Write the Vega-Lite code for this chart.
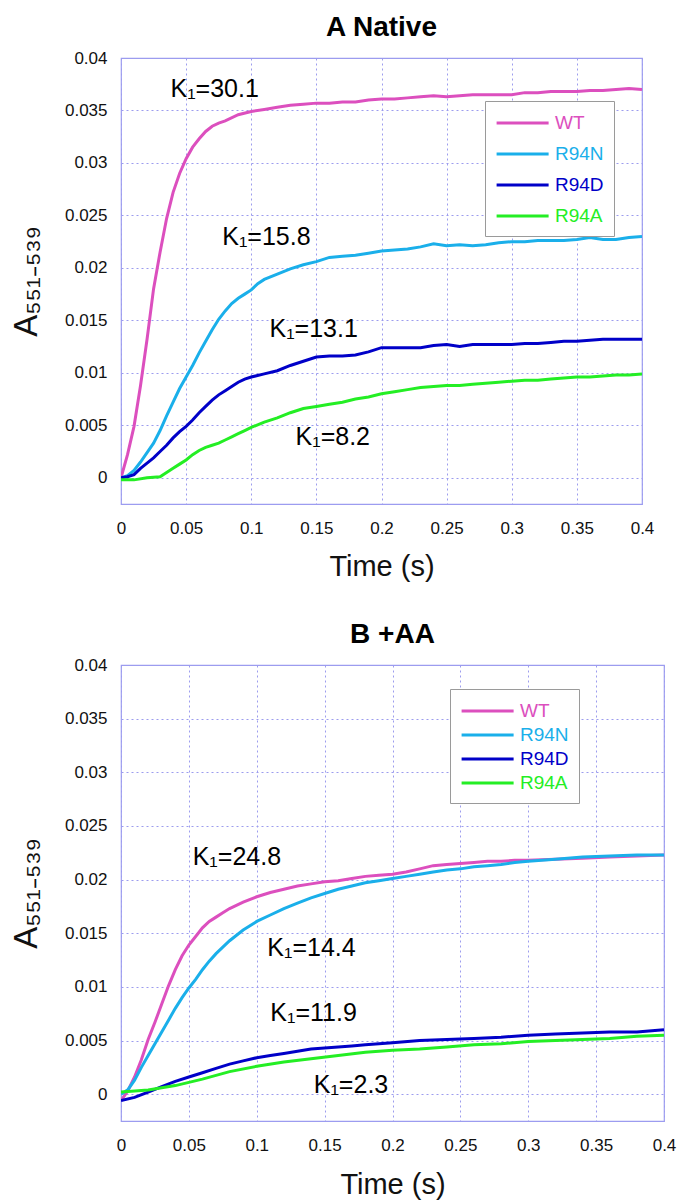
{
  "$schema": "https://vega.github.io/schema/vega-lite/v6.json",
  "padding": {"left": 9, "top": 13, "right": 2, "bottom": 2},
  "config": {
    "font": "Liberation Sans",
    "view": {"stroke": "#9c9cf0", "strokeWidth": 1.2},
    "axis": {
      "grid": true, "gridColor": "#9c9cee", "gridDash": [2, 3], "gridWidth": 1,
      "domain": false, "ticks": false,
      "labelFont": "Liberation Sans", "labelFontSize": 17, "labelColor": "#111111",
      "titleFont": "Liberation Sans", "titleFontSize": 29, "titleFontWeight": "normal", "titleColor": "#111111"
    },
    "title": {"font": "Liberation Sans", "fontSize": 28, "fontWeight": "bold", "frame": "group", "anchor": "middle", "offset": 7, "color": "#000000"},
    "text": {"font": "Liberation Sans"}
  },
  "datasets": {
    "curvesA": [
      {"t": 0, "a": 0, "s": "WT"}, {"t": 0.005, "a": 0.0022, "s": "WT"}, {"t": 0.01, "a": 0.0049, "s": "WT"}, {"t": 0.015, "a": 0.0088, "s": "WT"}, {"t": 0.02, "a": 0.0132, "s": "WT"}, {"t": 0.025, "a": 0.018, "s": "WT"}, {"t": 0.03, "a": 0.0215, "s": "WT"}, {"t": 0.035, "a": 0.0247, "s": "WT"}, {"t": 0.04, "a": 0.0272, "s": "WT"}, {"t": 0.045, "a": 0.029, "s": "WT"}, {"t": 0.05, "a": 0.0304, "s": "WT"}, {"t": 0.055, "a": 0.0315, "s": "WT"}, {"t": 0.06, "a": 0.0323, "s": "WT"}, {"t": 0.065, "a": 0.033, "s": "WT"}, {"t": 0.07, "a": 0.0335, "s": "WT"}, {"t": 0.075, "a": 0.0338, "s": "WT"}, {"t": 0.08, "a": 0.034, "s": "WT"}, {"t": 0.09, "a": 0.0346, "s": "WT"}, {"t": 0.1, "a": 0.0349, "s": "WT"}, {"t": 0.11, "a": 0.0351, "s": "WT"}, {"t": 0.12, "a": 0.0353, "s": "WT"}, {"t": 0.13, "a": 0.0355, "s": "WT"}, {"t": 0.14, "a": 0.0356, "s": "WT"}, {"t": 0.15, "a": 0.0357, "s": "WT"}, {"t": 0.16, "a": 0.0357, "s": "WT"}, {"t": 0.17, "a": 0.0358, "s": "WT"}, {"t": 0.18, "a": 0.0358, "s": "WT"}, {"t": 0.19, "a": 0.036, "s": "WT"}, {"t": 0.2, "a": 0.0361, "s": "WT"}, {"t": 0.21, "a": 0.0361, "s": "WT"}, {"t": 0.22, "a": 0.0362, "s": "WT"}, {"t": 0.23, "a": 0.0363, "s": "WT"}, {"t": 0.24, "a": 0.0364, "s": "WT"}, {"t": 0.25, "a": 0.0363, "s": "WT"}, {"t": 0.26, "a": 0.0364, "s": "WT"}, {"t": 0.27, "a": 0.0365, "s": "WT"}, {"t": 0.28, "a": 0.0365, "s": "WT"}, {"t": 0.29, "a": 0.0365, "s": "WT"}, {"t": 0.3, "a": 0.0365, "s": "WT"}, {"t": 0.31, "a": 0.0367, "s": "WT"}, {"t": 0.32, "a": 0.0367, "s": "WT"}, {"t": 0.33, "a": 0.0368, "s": "WT"}, {"t": 0.34, "a": 0.0368, "s": "WT"}, {"t": 0.35, "a": 0.0368, "s": "WT"}, {"t": 0.36, "a": 0.0369, "s": "WT"}, {"t": 0.37, "a": 0.0369, "s": "WT"}, {"t": 0.38, "a": 0.037, "s": "WT"}, {"t": 0.39, "a": 0.0371, "s": "WT"}, {"t": 0.4, "a": 0.037, "s": "WT"},
      {"t": 0, "a": 0, "s": "R94N"}, {"t": 0.005, "a": 0.0002, "s": "R94N"}, {"t": 0.01, "a": 0.0007, "s": "R94N"}, {"t": 0.015, "a": 0.0015, "s": "R94N"}, {"t": 0.02, "a": 0.0024, "s": "R94N"}, {"t": 0.025, "a": 0.0033, "s": "R94N"}, {"t": 0.03, "a": 0.0045, "s": "R94N"}, {"t": 0.035, "a": 0.0059, "s": "R94N"}, {"t": 0.04, "a": 0.0072, "s": "R94N"}, {"t": 0.045, "a": 0.0085, "s": "R94N"}, {"t": 0.05, "a": 0.0096, "s": "R94N"}, {"t": 0.055, "a": 0.0107, "s": "R94N"}, {"t": 0.06, "a": 0.0119, "s": "R94N"}, {"t": 0.065, "a": 0.013, "s": "R94N"}, {"t": 0.07, "a": 0.0141, "s": "R94N"}, {"t": 0.075, "a": 0.0151, "s": "R94N"}, {"t": 0.08, "a": 0.0159, "s": "R94N"}, {"t": 0.085, "a": 0.0166, "s": "R94N"}, {"t": 0.09, "a": 0.0171, "s": "R94N"}, {"t": 0.095, "a": 0.0175, "s": "R94N"}, {"t": 0.1, "a": 0.0179, "s": "R94N"}, {"t": 0.105, "a": 0.0185, "s": "R94N"}, {"t": 0.11, "a": 0.0189, "s": "R94N"}, {"t": 0.12, "a": 0.0194, "s": "R94N"}, {"t": 0.13, "a": 0.0199, "s": "R94N"}, {"t": 0.14, "a": 0.0203, "s": "R94N"}, {"t": 0.15, "a": 0.0206, "s": "R94N"}, {"t": 0.16, "a": 0.021, "s": "R94N"}, {"t": 0.17, "a": 0.0211, "s": "R94N"}, {"t": 0.18, "a": 0.0212, "s": "R94N"}, {"t": 0.19, "a": 0.0214, "s": "R94N"}, {"t": 0.2, "a": 0.0216, "s": "R94N"}, {"t": 0.21, "a": 0.0217, "s": "R94N"}, {"t": 0.22, "a": 0.0218, "s": "R94N"}, {"t": 0.23, "a": 0.022, "s": "R94N"}, {"t": 0.24, "a": 0.0223, "s": "R94N"}, {"t": 0.25, "a": 0.0221, "s": "R94N"}, {"t": 0.26, "a": 0.0222, "s": "R94N"}, {"t": 0.27, "a": 0.0221, "s": "R94N"}, {"t": 0.28, "a": 0.0222, "s": "R94N"}, {"t": 0.29, "a": 0.0224, "s": "R94N"}, {"t": 0.3, "a": 0.0225, "s": "R94N"}, {"t": 0.31, "a": 0.0225, "s": "R94N"}, {"t": 0.32, "a": 0.0226, "s": "R94N"}, {"t": 0.33, "a": 0.0226, "s": "R94N"}, {"t": 0.34, "a": 0.0226, "s": "R94N"}, {"t": 0.35, "a": 0.0227, "s": "R94N"}, {"t": 0.36, "a": 0.0229, "s": "R94N"}, {"t": 0.37, "a": 0.0227, "s": "R94N"}, {"t": 0.38, "a": 0.0227, "s": "R94N"}, {"t": 0.39, "a": 0.0229, "s": "R94N"}, {"t": 0.4, "a": 0.023, "s": "R94N"},
      {"t": 0, "a": 0, "s": "R94D"}, {"t": 0.005, "a": 0.0001, "s": "R94D"}, {"t": 0.01, "a": 0.0003, "s": "R94D"}, {"t": 0.015, "a": 0.0009, "s": "R94D"}, {"t": 0.02, "a": 0.0014, "s": "R94D"}, {"t": 0.025, "a": 0.0019, "s": "R94D"}, {"t": 0.03, "a": 0.0025, "s": "R94D"}, {"t": 0.035, "a": 0.0031, "s": "R94D"}, {"t": 0.04, "a": 0.0038, "s": "R94D"}, {"t": 0.045, "a": 0.0044, "s": "R94D"}, {"t": 0.05, "a": 0.0049, "s": "R94D"}, {"t": 0.055, "a": 0.0055, "s": "R94D"}, {"t": 0.06, "a": 0.0062, "s": "R94D"}, {"t": 0.065, "a": 0.0068, "s": "R94D"}, {"t": 0.07, "a": 0.0074, "s": "R94D"}, {"t": 0.075, "a": 0.0079, "s": "R94D"}, {"t": 0.08, "a": 0.0083, "s": "R94D"}, {"t": 0.085, "a": 0.0087, "s": "R94D"}, {"t": 0.09, "a": 0.0091, "s": "R94D"}, {"t": 0.095, "a": 0.0094, "s": "R94D"}, {"t": 0.1, "a": 0.0096, "s": "R94D"}, {"t": 0.11, "a": 0.0099, "s": "R94D"}, {"t": 0.12, "a": 0.0102, "s": "R94D"}, {"t": 0.13, "a": 0.0107, "s": "R94D"}, {"t": 0.14, "a": 0.0111, "s": "R94D"}, {"t": 0.15, "a": 0.0115, "s": "R94D"}, {"t": 0.16, "a": 0.0116, "s": "R94D"}, {"t": 0.17, "a": 0.0116, "s": "R94D"}, {"t": 0.18, "a": 0.0117, "s": "R94D"}, {"t": 0.19, "a": 0.012, "s": "R94D"}, {"t": 0.2, "a": 0.0124, "s": "R94D"}, {"t": 0.21, "a": 0.0124, "s": "R94D"}, {"t": 0.22, "a": 0.0124, "s": "R94D"}, {"t": 0.23, "a": 0.0124, "s": "R94D"}, {"t": 0.24, "a": 0.0126, "s": "R94D"}, {"t": 0.25, "a": 0.0127, "s": "R94D"}, {"t": 0.26, "a": 0.0125, "s": "R94D"}, {"t": 0.27, "a": 0.0127, "s": "R94D"}, {"t": 0.28, "a": 0.0127, "s": "R94D"}, {"t": 0.29, "a": 0.0127, "s": "R94D"}, {"t": 0.3, "a": 0.0127, "s": "R94D"}, {"t": 0.31, "a": 0.0128, "s": "R94D"}, {"t": 0.32, "a": 0.0128, "s": "R94D"}, {"t": 0.33, "a": 0.0129, "s": "R94D"}, {"t": 0.34, "a": 0.013, "s": "R94D"}, {"t": 0.35, "a": 0.013, "s": "R94D"}, {"t": 0.36, "a": 0.0131, "s": "R94D"}, {"t": 0.37, "a": 0.0132, "s": "R94D"}, {"t": 0.38, "a": 0.0132, "s": "R94D"}, {"t": 0.39, "a": 0.0132, "s": "R94D"}, {"t": 0.4, "a": 0.0132, "s": "R94D"},
      {"t": 0, "a": -0.0002, "s": "R94A"}, {"t": 0.01, "a": -0.0002, "s": "R94A"}, {"t": 0.02, "a": 0.0, "s": "R94A"}, {"t": 0.03, "a": 0.0001, "s": "R94A"}, {"t": 0.035, "a": 0.0005, "s": "R94A"}, {"t": 0.04, "a": 0.0009, "s": "R94A"}, {"t": 0.045, "a": 0.0013, "s": "R94A"}, {"t": 0.05, "a": 0.0017, "s": "R94A"}, {"t": 0.055, "a": 0.0022, "s": "R94A"}, {"t": 0.06, "a": 0.0026, "s": "R94A"}, {"t": 0.065, "a": 0.0029, "s": "R94A"}, {"t": 0.07, "a": 0.0031, "s": "R94A"}, {"t": 0.075, "a": 0.0033, "s": "R94A"}, {"t": 0.08, "a": 0.0036, "s": "R94A"}, {"t": 0.085, "a": 0.0039, "s": "R94A"}, {"t": 0.09, "a": 0.0042, "s": "R94A"}, {"t": 0.095, "a": 0.0045, "s": "R94A"}, {"t": 0.1, "a": 0.0048, "s": "R94A"}, {"t": 0.11, "a": 0.0053, "s": "R94A"}, {"t": 0.12, "a": 0.0057, "s": "R94A"}, {"t": 0.13, "a": 0.0062, "s": "R94A"}, {"t": 0.14, "a": 0.0066, "s": "R94A"}, {"t": 0.15, "a": 0.0068, "s": "R94A"}, {"t": 0.16, "a": 0.007, "s": "R94A"}, {"t": 0.17, "a": 0.0072, "s": "R94A"}, {"t": 0.18, "a": 0.0075, "s": "R94A"}, {"t": 0.19, "a": 0.0077, "s": "R94A"}, {"t": 0.2, "a": 0.008, "s": "R94A"}, {"t": 0.21, "a": 0.0082, "s": "R94A"}, {"t": 0.22, "a": 0.0084, "s": "R94A"}, {"t": 0.23, "a": 0.0086, "s": "R94A"}, {"t": 0.24, "a": 0.0087, "s": "R94A"}, {"t": 0.25, "a": 0.0088, "s": "R94A"}, {"t": 0.26, "a": 0.0088, "s": "R94A"}, {"t": 0.27, "a": 0.0089, "s": "R94A"}, {"t": 0.28, "a": 0.009, "s": "R94A"}, {"t": 0.29, "a": 0.0091, "s": "R94A"}, {"t": 0.3, "a": 0.0092, "s": "R94A"}, {"t": 0.31, "a": 0.0093, "s": "R94A"}, {"t": 0.32, "a": 0.0093, "s": "R94A"}, {"t": 0.33, "a": 0.0094, "s": "R94A"}, {"t": 0.34, "a": 0.0095, "s": "R94A"}, {"t": 0.35, "a": 0.0096, "s": "R94A"}, {"t": 0.36, "a": 0.0096, "s": "R94A"}, {"t": 0.37, "a": 0.0097, "s": "R94A"}, {"t": 0.38, "a": 0.0098, "s": "R94A"}, {"t": 0.39, "a": 0.0098, "s": "R94A"}, {"t": 0.4, "a": 0.0099, "s": "R94A"}
    ],
    "curvesB": [
      {"t": 0, "a": -0.0006, "s": "WT"}, {"t": 0.005, "a": 0.0003, "s": "WT"}, {"t": 0.01, "a": 0.0016, "s": "WT"}, {"t": 0.015, "a": 0.0032, "s": "WT"}, {"t": 0.02, "a": 0.0051, "s": "WT"}, {"t": 0.025, "a": 0.0067, "s": "WT"}, {"t": 0.03, "a": 0.0084, "s": "WT"}, {"t": 0.035, "a": 0.0101, "s": "WT"}, {"t": 0.04, "a": 0.0116, "s": "WT"}, {"t": 0.045, "a": 0.0129, "s": "WT"}, {"t": 0.05, "a": 0.0139, "s": "WT"}, {"t": 0.055, "a": 0.0147, "s": "WT"}, {"t": 0.06, "a": 0.0155, "s": "WT"}, {"t": 0.065, "a": 0.0161, "s": "WT"}, {"t": 0.07, "a": 0.0165, "s": "WT"}, {"t": 0.075, "a": 0.0169, "s": "WT"}, {"t": 0.08, "a": 0.0173, "s": "WT"}, {"t": 0.09, "a": 0.0179, "s": "WT"}, {"t": 0.1, "a": 0.0184, "s": "WT"}, {"t": 0.11, "a": 0.0188, "s": "WT"}, {"t": 0.12, "a": 0.0191, "s": "WT"}, {"t": 0.13, "a": 0.0194, "s": "WT"}, {"t": 0.14, "a": 0.0196, "s": "WT"}, {"t": 0.15, "a": 0.0198, "s": "WT"}, {"t": 0.16, "a": 0.0199, "s": "WT"}, {"t": 0.17, "a": 0.0201, "s": "WT"}, {"t": 0.18, "a": 0.0203, "s": "WT"}, {"t": 0.19, "a": 0.0204, "s": "WT"}, {"t": 0.2, "a": 0.0205, "s": "WT"}, {"t": 0.21, "a": 0.0207, "s": "WT"}, {"t": 0.22, "a": 0.021, "s": "WT"}, {"t": 0.23, "a": 0.0213, "s": "WT"}, {"t": 0.24, "a": 0.0214, "s": "WT"}, {"t": 0.25, "a": 0.0215, "s": "WT"}, {"t": 0.26, "a": 0.0216, "s": "WT"}, {"t": 0.27, "a": 0.0217, "s": "WT"}, {"t": 0.28, "a": 0.0217, "s": "WT"}, {"t": 0.29, "a": 0.0218, "s": "WT"}, {"t": 0.3, "a": 0.0218, "s": "WT"}, {"t": 0.32, "a": 0.0219, "s": "WT"}, {"t": 0.34, "a": 0.022, "s": "WT"}, {"t": 0.36, "a": 0.0221, "s": "WT"}, {"t": 0.38, "a": 0.0222, "s": "WT"}, {"t": 0.4, "a": 0.0223, "s": "WT"},
      {"t": 0, "a": 0, "s": "R94N"}, {"t": 0.005, "a": 0.0004, "s": "R94N"}, {"t": 0.01, "a": 0.0013, "s": "R94N"}, {"t": 0.015, "a": 0.0025, "s": "R94N"}, {"t": 0.02, "a": 0.0036, "s": "R94N"}, {"t": 0.025, "a": 0.0047, "s": "R94N"}, {"t": 0.03, "a": 0.0058, "s": "R94N"}, {"t": 0.035, "a": 0.0069, "s": "R94N"}, {"t": 0.04, "a": 0.008, "s": "R94N"}, {"t": 0.045, "a": 0.009, "s": "R94N"}, {"t": 0.05, "a": 0.0099, "s": "R94N"}, {"t": 0.055, "a": 0.0107, "s": "R94N"}, {"t": 0.06, "a": 0.0116, "s": "R94N"}, {"t": 0.065, "a": 0.0124, "s": "R94N"}, {"t": 0.07, "a": 0.0131, "s": "R94N"}, {"t": 0.075, "a": 0.0137, "s": "R94N"}, {"t": 0.08, "a": 0.0143, "s": "R94N"}, {"t": 0.09, "a": 0.0153, "s": "R94N"}, {"t": 0.1, "a": 0.0161, "s": "R94N"}, {"t": 0.11, "a": 0.0167, "s": "R94N"}, {"t": 0.12, "a": 0.0173, "s": "R94N"}, {"t": 0.13, "a": 0.0178, "s": "R94N"}, {"t": 0.14, "a": 0.0183, "s": "R94N"}, {"t": 0.15, "a": 0.0187, "s": "R94N"}, {"t": 0.16, "a": 0.0191, "s": "R94N"}, {"t": 0.17, "a": 0.0194, "s": "R94N"}, {"t": 0.18, "a": 0.0197, "s": "R94N"}, {"t": 0.19, "a": 0.0199, "s": "R94N"}, {"t": 0.2, "a": 0.0201, "s": "R94N"}, {"t": 0.21, "a": 0.0203, "s": "R94N"}, {"t": 0.22, "a": 0.0205, "s": "R94N"}, {"t": 0.23, "a": 0.0207, "s": "R94N"}, {"t": 0.24, "a": 0.0209, "s": "R94N"}, {"t": 0.25, "a": 0.021, "s": "R94N"}, {"t": 0.26, "a": 0.0212, "s": "R94N"}, {"t": 0.27, "a": 0.0213, "s": "R94N"}, {"t": 0.28, "a": 0.0214, "s": "R94N"}, {"t": 0.29, "a": 0.0216, "s": "R94N"}, {"t": 0.3, "a": 0.0217, "s": "R94N"}, {"t": 0.32, "a": 0.0219, "s": "R94N"}, {"t": 0.34, "a": 0.0221, "s": "R94N"}, {"t": 0.36, "a": 0.0222, "s": "R94N"}, {"t": 0.38, "a": 0.0223, "s": "R94N"}, {"t": 0.4, "a": 0.0223, "s": "R94N"},
      {"t": 0, "a": -0.0006, "s": "R94D"}, {"t": 0.01, "a": -0.0003, "s": "R94D"}, {"t": 0.02, "a": 0.0002, "s": "R94D"}, {"t": 0.03, "a": 0.0007, "s": "R94D"}, {"t": 0.04, "a": 0.0012, "s": "R94D"}, {"t": 0.05, "a": 0.0016, "s": "R94D"}, {"t": 0.06, "a": 0.002, "s": "R94D"}, {"t": 0.07, "a": 0.0024, "s": "R94D"}, {"t": 0.08, "a": 0.0028, "s": "R94D"}, {"t": 0.09, "a": 0.0031, "s": "R94D"}, {"t": 0.1, "a": 0.0034, "s": "R94D"}, {"t": 0.11, "a": 0.0036, "s": "R94D"}, {"t": 0.12, "a": 0.0038, "s": "R94D"}, {"t": 0.13, "a": 0.004, "s": "R94D"}, {"t": 0.14, "a": 0.0042, "s": "R94D"}, {"t": 0.15, "a": 0.0043, "s": "R94D"}, {"t": 0.16, "a": 0.0044, "s": "R94D"}, {"t": 0.17, "a": 0.0045, "s": "R94D"}, {"t": 0.18, "a": 0.0046, "s": "R94D"}, {"t": 0.19, "a": 0.0047, "s": "R94D"}, {"t": 0.2, "a": 0.0048, "s": "R94D"}, {"t": 0.22, "a": 0.005, "s": "R94D"}, {"t": 0.24, "a": 0.0051, "s": "R94D"}, {"t": 0.26, "a": 0.0052, "s": "R94D"}, {"t": 0.28, "a": 0.0053, "s": "R94D"}, {"t": 0.3, "a": 0.0055, "s": "R94D"}, {"t": 0.32, "a": 0.0056, "s": "R94D"}, {"t": 0.34, "a": 0.0057, "s": "R94D"}, {"t": 0.36, "a": 0.0058, "s": "R94D"}, {"t": 0.38, "a": 0.0058, "s": "R94D"}, {"t": 0.4, "a": 0.006, "s": "R94D"},
      {"t": 0, "a": 0.0002, "s": "R94A"}, {"t": 0.02, "a": 0.0004, "s": "R94A"}, {"t": 0.04, "a": 0.0008, "s": "R94A"}, {"t": 0.06, "a": 0.0014, "s": "R94A"}, {"t": 0.08, "a": 0.0021, "s": "R94A"}, {"t": 0.1, "a": 0.0026, "s": "R94A"}, {"t": 0.12, "a": 0.003, "s": "R94A"}, {"t": 0.14, "a": 0.0033, "s": "R94A"}, {"t": 0.16, "a": 0.0036, "s": "R94A"}, {"t": 0.18, "a": 0.0039, "s": "R94A"}, {"t": 0.2, "a": 0.0041, "s": "R94A"}, {"t": 0.22, "a": 0.0042, "s": "R94A"}, {"t": 0.24, "a": 0.0044, "s": "R94A"}, {"t": 0.26, "a": 0.0046, "s": "R94A"}, {"t": 0.28, "a": 0.0047, "s": "R94A"}, {"t": 0.3, "a": 0.0049, "s": "R94A"}, {"t": 0.32, "a": 0.005, "s": "R94A"}, {"t": 0.34, "a": 0.0051, "s": "R94A"}, {"t": 0.36, "a": 0.0052, "s": "R94A"}, {"t": 0.38, "a": 0.0054, "s": "R94A"}, {"t": 0.4, "a": 0.0055, "s": "R94A"}
    ],
    "labelsA": [
      {"t": 0.038, "a": 0.0363, "label": "K₁=30.1"},
      {"t": 0.0777, "a": 0.0222, "label": "K₁=15.8"},
      {"t": 0.114, "a": 0.0134, "label": "K₁=13.1"},
      {"t": 0.134, "a": 0.0031, "label": "K₁=8.2"}
    ],
    "labelsB": [
      {"t": 0.0528, "a": 0.0214, "label": "K₁=24.8"},
      {"t": 0.1078, "a": 0.0129, "label": "K₁=14.4"},
      {"t": 0.11, "a": 0.0068, "label": "K₁=11.9"},
      {"t": 0.142, "a": 0.0001, "label": "K₁=2.3"}
    ]
  },
  "vconcat": [
    {
      "title": "A Native",
      "width": 521,
      "height": 446,
      "encoding": {
        "x": {"field": "t", "type": "quantitative", "scale": {"domain": [0, 0.4], "nice": false, "zero": false},
              "axis": {"title": "Time (s)", "values": [0, 0.05, 0.1, 0.15, 0.2, 0.25, 0.3, 0.35, 0.4], "format": "~g", "labelPadding": 16, "titlePadding": 16, "labelFlush": false}},
        "y": {"field": "a", "type": "quantitative", "scale": {"domain": [-0.0025, 0.04], "nice": false, "zero": false},
              "axis": {"title": "A₅₅₁₋₅₃₉", "titleFontSize": 33, "values": [0, 0.005, 0.01, 0.015, 0.02, 0.025, 0.03, 0.035, 0.04], "format": "~g", "labelPadding": 14, "titlePadding": 21, "labelFlush": false}}
      },
      "layer": [
        {
          "data": {"name": "curvesA"},
          "mark": {"type": "line", "strokeWidth": 3, "clip": true},
          "encoding": {
            "color": {"field": "s", "type": "nominal",
              "scale": {"domain": ["WT", "R94N", "R94D", "R94A"], "range": ["#dc4fbe", "#1aafea", "#0000c8", "#24ee24"]},
              "legend": {"orient": "none", "legendX": 364, "legendY": 43, "title": null, "symbolType": "M-1,0H4", "symbolSize": 433, "symbolStrokeWidth": 3, "labelFontSize": 19, "labelFont": "Liberation Sans", "padding": 10, "strokeColor": "#9a9a9a", "fillColor": "#ffffff", "rowPadding": 9, "labelOffset": 36,
                "encode": {"labels": {"update": {"fill": {"signal": "datum.value === 'WT' ? '#dc4fbe' : datum.value === 'R94N' ? '#1aafea' : datum.value === 'R94D' ? '#0000c8' : '#24ee24'"}}}}}
            }
          }
        },
        {
          "data": {"name": "labelsA"},
          "mark": {"type": "text", "align": "left", "baseline": "alphabetic", "fontSize": 25, "color": "#000000"},
          "encoding": {"text": {"field": "label"}}
        }
      ]
    },
    {
      "title": "B +AA",
      "width": 543,
      "height": 456,
      "encoding": {
        "x": {"field": "t", "type": "quantitative", "scale": {"domain": [0, 0.4], "nice": false, "zero": false},
              "axis": {"title": "Time (s)", "values": [0, 0.05, 0.1, 0.15, 0.2, 0.25, 0.3, 0.35, 0.4], "format": "~g", "labelPadding": 16, "titlePadding": 17, "labelFlush": false}},
        "y": {"field": "a", "type": "quantitative", "scale": {"domain": [-0.0025, 0.04], "nice": false, "zero": false},
              "axis": {"title": "A₅₅₁₋₅₃₉", "titleFontSize": 33, "values": [0, 0.005, 0.01, 0.015, 0.02, 0.025, 0.03, 0.035, 0.04], "format": "~g", "labelPadding": 14, "titlePadding": 21, "labelFlush": false}}
      },
      "layer": [
        {
          "data": {"name": "curvesB"},
          "mark": {"type": "line", "strokeWidth": 3, "clip": true},
          "encoding": {
            "color": {"field": "s", "type": "nominal",
              "scale": {"domain": ["WT", "R94N", "R94D", "R94A"], "range": ["#dc4fbe", "#1aafea", "#0000c8", "#24ee24"]},
              "legend": {"orient": "none", "legendX": 329, "legendY": 24, "title": null, "symbolType": "M-1,0H4", "symbolSize": 433, "symbolStrokeWidth": 3, "labelFontSize": 19, "labelFont": "Liberation Sans", "padding": 10, "strokeColor": "#9a9a9a", "fillColor": "#ffffff", "rowPadding": 2, "labelOffset": 36,
                "encode": {"labels": {"update": {"fill": {"signal": "datum.value === 'WT' ? '#dc4fbe' : datum.value === 'R94N' ? '#1aafea' : datum.value === 'R94D' ? '#0000c8' : '#24ee24'"}}}}}
            }
          }
        },
        {
          "data": {"name": "labelsB"},
          "mark": {"type": "text", "align": "left", "baseline": "alphabetic", "fontSize": 25, "color": "#000000"},
          "encoding": {"text": {"field": "label"}}
        }
      ]
    }
  ],
  "spacing": 38,
  "resolve": {"legend": {"color": "independent"}, "scale": {"color": "independent"}}
}
